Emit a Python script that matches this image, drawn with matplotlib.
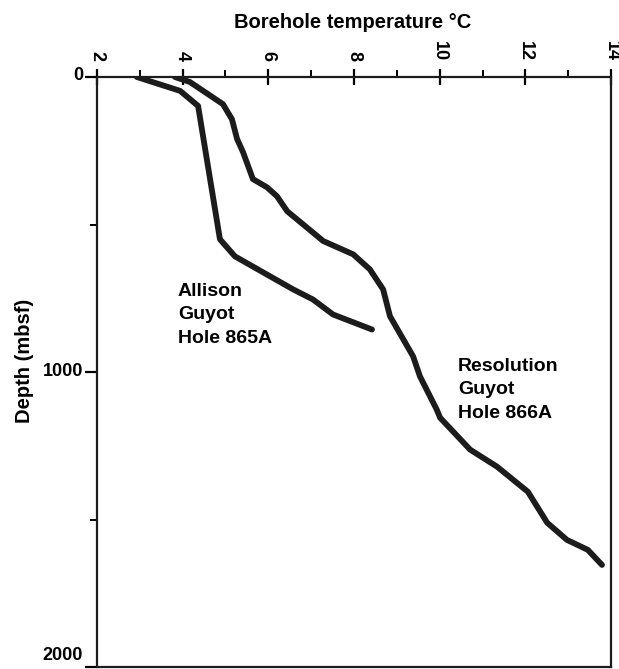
import matplotlib.pyplot as plt
from matplotlib.ticker import MultipleLocator
from matplotlib.transforms import ScaledTranslation

plt.rcParams['font.family'] = ['Liberation Sans', 'DejaVu Sans']
plt.rcParams['font.weight'] = 'bold'

# Hole 865A, Allison Guyot
temp_865a = [2.93, 3.94, 4.36, 4.87, 5.22, 6.58, 7.04, 7.51, 8.42]
depth_865a = [0, 47, 98, 550, 608, 720, 754, 805, 856]

# Hole 866A, Resolution Guyot
temp_866a = [3.82, 4.17, 4.94, 5.15, 5.27, 5.41, 5.64, 5.97, 6.20, 6.44, 7.04,
             7.28, 7.98, 8.37, 8.68, 8.84, 9.38, 9.54, 9.93, 10.01, 10.71,
             11.34, 12.06, 12.51, 12.97, 13.46, 13.79]
depth_866a = [0, 17, 92, 143, 210, 255, 346, 374, 404, 455, 527,
              556, 601, 652, 720, 811, 947, 1015, 1127, 1155, 1263,
              1321, 1406, 1511, 1569, 1603, 1654]

x_ticks = [2, 4, 6, 8, 10, 12, 14]
y_ticks = [0, 1000, 2000]

fig = plt.figure(figsize=(6.19, 6.69), dpi=100)
ax = fig.add_axes([97 / 619, 1 - 667 / 669, (611 - 97) / 619, (667 - 77) / 669])

line_kw = dict(color='#1c1c1c', lw=4.2, solid_capstyle='round', solid_joinstyle='round')
ax.plot(temp_865a, depth_865a, **line_kw)
ax.plot(temp_866a, depth_866a, **line_kw)

ax.set_xlim(2, 14)
ax.set_ylim(2000, 0)
ax.xaxis.tick_top()
ax.set_xticks(x_ticks)
ax.xaxis.set_minor_locator(MultipleLocator(1))
ax.set_yticks(y_ticks)
ax.yaxis.set_minor_locator(MultipleLocator(500))

for s in ax.spines.values():
    s.set_linewidth(1.6)
    s.set_color('#1c1c1c')

ax.tick_params(axis='x', which='major', direction='inout', length=11, width=1.6,
               pad=6, labelsize=13, labelrotation=-90)
ax.tick_params(axis='x', which='minor', direction='out', length=5, width=1.4)
ax.tick_params(axis='y', which='major', direction='out', length=9, width=1.6,
               pad=1, labelsize=13)
ax.tick_params(axis='y', which='minor', direction='out', length=5, width=1.4)

shift = ScaledTranslation(0, 3 / 100, fig.dpi_scale_trans)
for lab in ax.get_yticklabels():
    lab.set_transform(lab.get_transform() + shift)
# the bottom label sits on the lower edge of the picture
ax.get_yticklabels()[-1].set_verticalalignment('bottom')

fig.text(353 / 619, 1 - 22 / 669, 'Borehole temperature \u00b0C', ha='center', va='center',
         fontsize=14.5, fontweight='bold')
fig.text(24 / 619, 1 - 361 / 669, 'Depth (mbsf)', rotation=90, ha='center', va='center',
         fontsize=14.5, fontweight='bold')

ax.text(3.89, 698, 'Allison\nGuyot\nHole 865A', fontsize=14, fontweight='bold',
        ha='left', va='top', linespacing=1.5)
ax.text(10.43, 952, 'Resolution\nGuyot\nHole 866A', fontsize=14, fontweight='bold',
        ha='left', va='top', linespacing=1.5)

fig.savefig('out.png', dpi=100)
